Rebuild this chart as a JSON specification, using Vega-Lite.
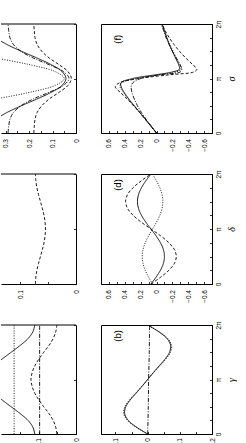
{
"$schema": "https://vega.github.io/schema/vega-lite/v6.json",
"padding": {"left": 0, "top": 19, "right": 0, "bottom": 0},
"bounds": "flush",
"align": "each",
"columns": 2,
"spacing": {"row": 41, "column": 25},
"config": {
  "view": {"stroke": "black", "strokeWidth": 1},
  "font": "Liberation Sans",
  "axis": {"grid": false, "labelOverlap": false, "labelBound": false, "labelFlush": false, "domainColor": "black", "domainWidth": 1, "tickColor": "black", "tickWidth": 0.8, "tickSize": -2.5, "labelColor": "black", "labelFont": "Liberation Sans", "labelFontSize": 6.5, "titleColor": "black"}
},
"data": {"values": [
{"p":"e","s":"solid","t":0,"v":0.40},{"p":"e","s":"solid","t":0.125,"v":0.378},{"p":"e","s":"solid","t":0.25,"v":0.343},{"p":"e","s":"solid","t":0.375,"v":0.295},{"p":"e","s":"solid","t":0.5,"v":0.233},{"p":"e","s":"solid","t":0.625,"v":0.166},{"p":"e","s":"solid","t":0.75,"v":0.104},{"p":"e","s":"solid","t":0.875,"v":0.059},{"p":"e","s":"solid","t":1,"v":0.043},{"p":"e","s":"solid","t":1.125,"v":0.059},{"p":"e","s":"solid","t":1.25,"v":0.104},{"p":"e","s":"solid","t":1.375,"v":0.166},{"p":"e","s":"solid","t":1.5,"v":0.233},{"p":"e","s":"solid","t":1.625,"v":0.295},{"p":"e","s":"solid","t":1.75,"v":0.343},{"p":"e","s":"solid","t":1.875,"v":0.378},{"p":"e","s":"solid","t":2,"v":0.40},
{"p":"e","s":"dotted","t":0,"v":0.894},{"p":"e","s":"dotted","t":0.125,"v":0.843},{"p":"e","s":"dotted","t":0.25,"v":0.76},{"p":"e","s":"dotted","t":0.375,"v":0.646},{"p":"e","s":"dotted","t":0.5,"v":0.50},{"p":"e","s":"dotted","t":0.625,"v":0.341},{"p":"e","s":"dotted","t":0.75,"v":0.194},{"p":"e","s":"dotted","t":0.875,"v":0.088},{"p":"e","s":"dotted","t":1,"v":0.05},{"p":"e","s":"dotted","t":1.125,"v":0.088},{"p":"e","s":"dotted","t":1.25,"v":0.194},{"p":"e","s":"dotted","t":1.375,"v":0.341},{"p":"e","s":"dotted","t":1.5,"v":0.50},{"p":"e","s":"dotted","t":1.625,"v":0.646},{"p":"e","s":"dotted","t":1.75,"v":0.76},{"p":"e","s":"dotted","t":1.875,"v":0.843},{"p":"e","s":"dotted","t":2,"v":0.894},
{"p":"e","s":"dashed","t":0,"v":0.18},{"p":"e","s":"dashed","t":0.125,"v":0.178},{"p":"e","s":"dashed","t":0.25,"v":0.175},{"p":"e","s":"dashed","t":0.375,"v":0.166},{"p":"e","s":"dashed","t":0.5,"v":0.146},{"p":"e","s":"dashed","t":0.625,"v":0.114},{"p":"e","s":"dashed","t":0.75,"v":0.071},{"p":"e","s":"dashed","t":0.875,"v":0.034},{"p":"e","s":"dashed","t":1,"v":0.02},{"p":"e","s":"dashed","t":1.125,"v":0.034},{"p":"e","s":"dashed","t":1.25,"v":0.071},{"p":"e","s":"dashed","t":1.375,"v":0.114},{"p":"e","s":"dashed","t":1.5,"v":0.146},{"p":"e","s":"dashed","t":1.625,"v":0.166},{"p":"e","s":"dashed","t":1.75,"v":0.175},{"p":"e","s":"dashed","t":1.875,"v":0.178},{"p":"e","s":"dashed","t":2,"v":0.18},
{"p":"e","s":"dashdot","t":0,"v":0.29},{"p":"e","s":"dashdot","t":0.125,"v":0.287},{"p":"e","s":"dashdot","t":0.25,"v":0.282},{"p":"e","s":"dashdot","t":0.375,"v":0.267},{"p":"e","s":"dashdot","t":0.5,"v":0.235},{"p":"e","s":"dashdot","t":0.625,"v":0.182},{"p":"e","s":"dashdot","t":0.75,"v":0.113},{"p":"e","s":"dashdot","t":0.875,"v":0.053},{"p":"e","s":"dashdot","t":1,"v":0.03},{"p":"e","s":"dashdot","t":1.125,"v":0.053},{"p":"e","s":"dashdot","t":1.25,"v":0.113},{"p":"e","s":"dashdot","t":1.375,"v":0.182},{"p":"e","s":"dashdot","t":1.5,"v":0.235},{"p":"e","s":"dashdot","t":1.625,"v":0.267},{"p":"e","s":"dashdot","t":1.75,"v":0.282},{"p":"e","s":"dashdot","t":1.875,"v":0.287},{"p":"e","s":"dashdot","t":2,"v":0.29},
{"p":"c","s":"dashed","t":0,"v":0.073},{"p":"c","s":"dashed","t":0.125,"v":0.0723},{"p":"c","s":"dashed","t":0.25,"v":0.0704},{"p":"c","s":"dashed","t":0.375,"v":0.0674},{"p":"c","s":"dashed","t":0.5,"v":0.064},{"p":"c","s":"dashed","t":0.625,"v":0.0606},{"p":"c","s":"dashed","t":0.75,"v":0.0576},{"p":"c","s":"dashed","t":0.875,"v":0.0557},{"p":"c","s":"dashed","t":1,"v":0.055},{"p":"c","s":"dashed","t":1.125,"v":0.0557},{"p":"c","s":"dashed","t":1.25,"v":0.0576},{"p":"c","s":"dashed","t":1.375,"v":0.0606},{"p":"c","s":"dashed","t":1.5,"v":0.064},{"p":"c","s":"dashed","t":1.625,"v":0.0674},{"p":"c","s":"dashed","t":1.75,"v":0.0704},{"p":"c","s":"dashed","t":1.875,"v":0.0723},{"p":"c","s":"dashed","t":2,"v":0.073},
{"p":"a","s":"solid","t":0,"v":0.110},{"p":"a","s":"solid","t":0.125,"v":0.115},{"p":"a","s":"solid","t":0.25,"v":0.128},{"p":"a","s":"solid","t":0.375,"v":0.149},{"p":"a","s":"solid","t":0.5,"v":0.173},{"p":"a","s":"solid","t":0.625,"v":0.197},{"p":"a","s":"solid","t":0.75,"v":0.218},{"p":"a","s":"solid","t":0.875,"v":0.231},{"p":"a","s":"solid","t":1,"v":0.236},{"p":"a","s":"solid","t":1.125,"v":0.231},{"p":"a","s":"solid","t":1.25,"v":0.218},{"p":"a","s":"solid","t":1.375,"v":0.197},{"p":"a","s":"solid","t":1.5,"v":0.173},{"p":"a","s":"solid","t":1.625,"v":0.149},{"p":"a","s":"solid","t":1.75,"v":0.128},{"p":"a","s":"solid","t":1.875,"v":0.115},{"p":"a","s":"solid","t":2,"v":0.110},
{"p":"a","s":"dashed","t":0,"v":0.051},{"p":"a","s":"dashed","t":0.125,"v":0.054},{"p":"a","s":"dashed","t":0.25,"v":0.061},{"p":"a","s":"dashed","t":0.375,"v":0.072},{"p":"a","s":"dashed","t":0.5,"v":0.086},{"p":"a","s":"dashed","t":0.625,"v":0.099},{"p":"a","s":"dashed","t":0.75,"v":0.110},{"p":"a","s":"dashed","t":0.875,"v":0.117},{"p":"a","s":"dashed","t":1,"v":0.120},{"p":"a","s":"dashed","t":1.125,"v":0.117},{"p":"a","s":"dashed","t":1.25,"v":0.110},{"p":"a","s":"dashed","t":1.375,"v":0.099},{"p":"a","s":"dashed","t":1.5,"v":0.086},{"p":"a","s":"dashed","t":1.625,"v":0.072},{"p":"a","s":"dashed","t":1.75,"v":0.061},{"p":"a","s":"dashed","t":1.875,"v":0.054},{"p":"a","s":"dashed","t":2,"v":0.051},
{"p":"a","s":"dotted","t":0,"v":0.165},{"p":"a","s":"dotted","t":1,"v":0.165},{"p":"a","s":"dotted","t":2,"v":0.165},
{"p":"a","s":"dashdot","t":0,"v":0.097},{"p":"a","s":"dashdot","t":1,"v":0.097},{"p":"a","s":"dashdot","t":2,"v":0.097},
{"p":"b","s":"solid","t":0,"v":0},{"p":"b","s":"solid","t":0.125,"v":0.0347},{"p":"b","s":"solid","t":0.25,"v":0.0603},{"p":"b","s":"solid","t":0.375,"v":0.0715},{"p":"b","s":"solid","t":0.5,"v":0.068},{"p":"b","s":"solid","t":0.625,"v":0.0542},{"p":"b","s":"solid","t":0.75,"v":0.0358},{"p":"b","s":"solid","t":0.875,"v":0.0174},{"p":"b","s":"solid","t":1,"v":0},{"p":"b","s":"solid","t":1.125,"v":-0.0174},{"p":"b","s":"solid","t":1.25,"v":-0.0358},{"p":"b","s":"solid","t":1.375,"v":-0.0542},{"p":"b","s":"solid","t":1.5,"v":-0.068},{"p":"b","s":"solid","t":1.625,"v":-0.0715},{"p":"b","s":"solid","t":1.75,"v":-0.0603},{"p":"b","s":"solid","t":1.875,"v":-0.0347},{"p":"b","s":"solid","t":2,"v":0},
{"p":"b","s":"dotted","t":0,"v":0},{"p":"b","s":"dotted","t":0.125,"v":0.036},{"p":"b","s":"dotted","t":0.25,"v":0.063},{"p":"b","s":"dotted","t":0.375,"v":0.0745},{"p":"b","s":"dotted","t":0.5,"v":0.071},{"p":"b","s":"dotted","t":0.625,"v":0.0565},{"p":"b","s":"dotted","t":0.75,"v":0.0373},{"p":"b","s":"dotted","t":0.875,"v":0.0181},{"p":"b","s":"dotted","t":1,"v":0},{"p":"b","s":"dotted","t":1.125,"v":-0.0181},{"p":"b","s":"dotted","t":1.25,"v":-0.0373},{"p":"b","s":"dotted","t":1.375,"v":-0.0565},{"p":"b","s":"dotted","t":1.5,"v":-0.071},{"p":"b","s":"dotted","t":1.625,"v":-0.0745},{"p":"b","s":"dotted","t":1.75,"v":-0.063},{"p":"b","s":"dotted","t":1.875,"v":-0.036},{"p":"b","s":"dotted","t":2,"v":0},
{"p":"b","s":"dashdot","t":0,"v":0},{"p":"b","s":"dashdot","t":0.5,"v":-0.002},{"p":"b","s":"dashdot","t":1,"v":-0.003},{"p":"b","s":"dashdot","t":1.5,"v":-0.005},{"p":"b","s":"dashdot","t":2,"v":-0.006},
{"p":"d","s":"solid","t":0,"v":0.07},{"p":"d","s":"solid","t":0.125,"v":0.005},{"p":"d","s":"solid","t":0.25,"v":-0.05},{"p":"d","s":"solid","t":0.375,"v":-0.087},{"p":"d","s":"solid","t":0.5,"v":-0.10},{"p":"d","s":"solid","t":0.625,"v":-0.087},{"p":"d","s":"solid","t":0.75,"v":-0.05},{"p":"d","s":"solid","t":0.875,"v":0.005},{"p":"d","s":"solid","t":1,"v":0.07},{"p":"d","s":"solid","t":1.125,"v":0.135},{"p":"d","s":"solid","t":1.25,"v":0.19},{"p":"d","s":"solid","t":1.375,"v":0.227},{"p":"d","s":"solid","t":1.5,"v":0.24},{"p":"d","s":"solid","t":1.625,"v":0.227},{"p":"d","s":"solid","t":1.75,"v":0.19},{"p":"d","s":"solid","t":1.875,"v":0.135},{"p":"d","s":"solid","t":2,"v":0.07},
{"p":"d","s":"dashed","t":0,"v":0.07},{"p":"d","s":"dashed","t":0.125,"v":-0.053},{"p":"d","s":"dashed","t":0.25,"v":-0.156},{"p":"d","s":"dashed","t":0.375,"v":-0.226},{"p":"d","s":"dashed","t":0.5,"v":-0.25},{"p":"d","s":"dashed","t":0.625,"v":-0.226},{"p":"d","s":"dashed","t":0.75,"v":-0.156},{"p":"d","s":"dashed","t":0.875,"v":-0.053},{"p":"d","s":"dashed","t":1,"v":0.07},{"p":"d","s":"dashed","t":1.125,"v":0.193},{"p":"d","s":"dashed","t":1.25,"v":0.296},{"p":"d","s":"dashed","t":1.375,"v":0.366},{"p":"d","s":"dashed","t":1.5,"v":0.39},{"p":"d","s":"dashed","t":1.625,"v":0.366},{"p":"d","s":"dashed","t":1.75,"v":0.296},{"p":"d","s":"dashed","t":1.875,"v":0.193},{"p":"d","s":"dashed","t":2,"v":0.07},
{"p":"d","s":"dotted","t":0,"v":0.05},{"p":"d","s":"dotted","t":0.125,"v":0.10},{"p":"d","s":"dotted","t":0.25,"v":0.142},{"p":"d","s":"dotted","t":0.375,"v":0.17},{"p":"d","s":"dotted","t":0.5,"v":0.18},{"p":"d","s":"dotted","t":0.625,"v":0.17},{"p":"d","s":"dotted","t":0.75,"v":0.142},{"p":"d","s":"dotted","t":0.875,"v":0.10},{"p":"d","s":"dotted","t":1,"v":0.05},{"p":"d","s":"dotted","t":1.125,"v":0.0},{"p":"d","s":"dotted","t":1.25,"v":-0.042},{"p":"d","s":"dotted","t":1.375,"v":-0.07},{"p":"d","s":"dotted","t":1.5,"v":-0.08},{"p":"d","s":"dotted","t":1.625,"v":-0.07},{"p":"d","s":"dotted","t":1.75,"v":-0.042},{"p":"d","s":"dotted","t":1.875,"v":0.0},{"p":"d","s":"dotted","t":2,"v":0.05},
{"p":"f","s":"solid","t":0,"v":0},{"p":"f","s":"solid","t":0.125,"v":0.07},{"p":"f","s":"solid","t":0.25,"v":0.14},{"p":"f","s":"solid","t":0.375,"v":0.21},{"p":"f","s":"solid","t":0.5,"v":0.28},{"p":"f","s":"solid","t":0.625,"v":0.35},{"p":"f","s":"solid","t":0.75,"v":0.41},{"p":"f","s":"solid","t":0.85,"v":0.445},{"p":"f","s":"solid","t":0.92,"v":0.45},{"p":"f","s":"solid","t":1.0,"v":0.30},{"p":"f","s":"solid","t":1.07,"v":0.0},{"p":"f","s":"solid","t":1.12,"v":-0.2},{"p":"f","s":"solid","t":1.17,"v":-0.29},{"p":"f","s":"solid","t":1.25,"v":-0.28},{"p":"f","s":"solid","t":1.375,"v":-0.24},{"p":"f","s":"solid","t":1.5,"v":-0.2},{"p":"f","s":"solid","t":1.625,"v":-0.16},{"p":"f","s":"solid","t":1.75,"v":-0.13},{"p":"f","s":"solid","t":1.875,"v":-0.1},{"p":"f","s":"solid","t":2,"v":-0.07},
{"p":"f","s":"dashed","t":0,"v":0},{"p":"f","s":"dashed","t":0.125,"v":0.07},{"p":"f","s":"dashed","t":0.25,"v":0.14},{"p":"f","s":"dashed","t":0.375,"v":0.21},{"p":"f","s":"dashed","t":0.5,"v":0.29},{"p":"f","s":"dashed","t":0.625,"v":0.37},{"p":"f","s":"dashed","t":0.75,"v":0.46},{"p":"f","s":"dashed","t":0.85,"v":0.52},{"p":"f","s":"dashed","t":0.92,"v":0.47},{"p":"f","s":"dashed","t":1.0,"v":0.22},{"p":"f","s":"dashed","t":1.07,"v":-0.18},{"p":"f","s":"dashed","t":1.12,"v":-0.47},{"p":"f","s":"dashed","t":1.17,"v":-0.51},{"p":"f","s":"dashed","t":1.25,"v":-0.46},{"p":"f","s":"dashed","t":1.375,"v":-0.37},{"p":"f","s":"dashed","t":1.5,"v":-0.29},{"p":"f","s":"dashed","t":1.625,"v":-0.22},{"p":"f","s":"dashed","t":1.75,"v":-0.16},{"p":"f","s":"dashed","t":1.875,"v":-0.11},{"p":"f","s":"dashed","t":2,"v":-0.07},
{"p":"f","s":"dashdot","t":0,"v":0},{"p":"f","s":"dashdot","t":0.125,"v":0.065},{"p":"f","s":"dashdot","t":0.25,"v":0.13},{"p":"f","s":"dashdot","t":0.375,"v":0.19},{"p":"f","s":"dashdot","t":0.5,"v":0.24},{"p":"f","s":"dashdot","t":0.625,"v":0.28},{"p":"f","s":"dashdot","t":0.75,"v":0.31},{"p":"f","s":"dashdot","t":0.85,"v":0.32},{"p":"f","s":"dashdot","t":0.92,"v":0.30},{"p":"f","s":"dashdot","t":1.0,"v":0.20},{"p":"f","s":"dashdot","t":1.07,"v":-0.05},{"p":"f","s":"dashdot","t":1.12,"v":-0.30},{"p":"f","s":"dashdot","t":1.17,"v":-0.32},{"p":"f","s":"dashdot","t":1.25,"v":-0.30},{"p":"f","s":"dashdot","t":1.375,"v":-0.25},{"p":"f","s":"dashdot","t":1.5,"v":-0.20},{"p":"f","s":"dashdot","t":1.625,"v":-0.16},{"p":"f","s":"dashdot","t":1.75,"v":-0.12},{"p":"f","s":"dashdot","t":1.875,"v":-0.09},{"p":"f","s":"dashdot","t":2,"v":-0.06},
{"p":"f","s":"dotted","t":0,"v":0},{"p":"f","s":"dotted","t":0.125,"v":0.07},{"p":"f","s":"dotted","t":0.25,"v":0.14},{"p":"f","s":"dotted","t":0.375,"v":0.21},{"p":"f","s":"dotted","t":0.5,"v":0.285},{"p":"f","s":"dotted","t":0.625,"v":0.355},{"p":"f","s":"dotted","t":0.75,"v":0.42},{"p":"f","s":"dotted","t":0.85,"v":0.46},{"p":"f","s":"dotted","t":0.92,"v":0.44},{"p":"f","s":"dotted","t":1.0,"v":0.25},{"p":"f","s":"dotted","t":1.07,"v":-0.05},{"p":"f","s":"dotted","t":1.12,"v":-0.25},{"p":"f","s":"dotted","t":1.17,"v":-0.31},{"p":"f","s":"dotted","t":1.25,"v":-0.29},{"p":"f","s":"dotted","t":1.375,"v":-0.25},{"p":"f","s":"dotted","t":1.5,"v":-0.21},{"p":"f","s":"dotted","t":1.625,"v":-0.17},{"p":"f","s":"dotted","t":1.75,"v":-0.13},{"p":"f","s":"dotted","t":1.875,"v":-0.10},{"p":"f","s":"dotted","t":2,"v":-0.07}
]},
"concat": [
  {"width": 75, "height": 109, "view": {"stroke": null},
   "layer": [
    {"transform": [{"filter": "datum.p == 'e'"}],
     "mark": {"type": "line", "clip": true, "color": "black", "strokeWidth": 0.9, "interpolate": "catmull-rom"},
     "encoding": {
      "x": {"field": "v", "type": "quantitative", "scale": {"domain": [0, 0.32], "reverse": true, "nice": false, "zero": false},
            "axis": {"orient": "bottom", "values": [0, 0.05, 0.1, 0.15, 0.2, 0.25, 0.3], "format": "~g", "labelExpr": "round(datum.value*100)%10==0?datum.label:''", "labelOverlap": false, "labelAngle": 270, "labelAlign": "right", "labelBaseline": "middle", "labelPadding": 8, "title": null}},
      "y": {"field": "t", "type": "quantitative", "scale": {"domain": [0, 2], "nice": false, "zero": false},
            "axis": {"orient": "right", "values": [0, 0.25, 0.5, 0.75, 1, 1.25, 1.5, 1.75, 2], "labels": false, "title": null}},
      "order": {"field": "t", "type": "quantitative"},
      "strokeDash": {"field": "s", "type": "nominal", "legend": null, "scale": {"domain": ["solid", "dashed", "dotted", "dashdot"], "range": [[1, 0], [3, 2], [1, 1.5], [4, 1.5, 1, 1.5]]}}
     }},
    {"data": {"values": [{}]}, "mark": {"type": "rule", "color": "black", "strokeWidth": 1}, "encoding": {"y": {"datum": 2, "type": "quantitative"}}}
   ]},
  {"width": 111, "height": 109,
   "layer": [
    {"transform": [{"filter": "datum.p == 'f'"}],
     "mark": {"type": "line", "clip": true, "color": "black", "strokeWidth": 0.9, "interpolate": "catmull-rom"},
     "encoding": {
      "x": {"field": "v", "type": "quantitative", "scale": {"domain": [-0.7, 0.7], "reverse": true, "nice": false, "zero": false},
            "axis": {"orient": "bottom", "values": [-0.6, -0.5, -0.4, -0.3, -0.2, -0.1, 0, 0.1, 0.2, 0.3, 0.4, 0.5, 0.6], "format": "~g", "labelExpr": "round(datum.value*10)%2==0?datum.label:''", "labelOverlap": false, "labelAngle": 270, "labelAlign": "right", "labelBaseline": "middle", "labelPadding": 8, "title": null}},
      "y": {"field": "t", "type": "quantitative", "scale": {"domain": [0, 2], "nice": false, "zero": false},
            "axis": {"orient": "right", "values": [0, 0.25, 0.5, 0.75, 1, 1.25, 1.5, 1.75, 2], "labelExpr": "datum.value==0?'0':datum.value==1?'π':datum.value==2?'2π':''", "labelOverlap": false, "labelAngle": 270, "labelAlign": "center", "labelBaseline": "top", "labelPadding": 5.5, "title": "σ", "titleAngle": 270, "titleAlign": "center", "titleBaseline": "top", "titleFont": "Liberation Serif", "titleFontStyle": "italic", "titleFontSize": 10, "titleFontWeight": "normal", "titlePadding": 5}},
      "order": {"field": "t", "type": "quantitative"},
      "strokeDash": {"field": "s", "type": "nominal", "legend": null, "scale": {"domain": ["solid", "dashed", "dotted", "dashdot"], "range": [[1, 0], [3, 2], [1, 1.5], [4, 1.5, 1, 1.5]]}}
     }},
    {"data": {"values": [{"label": "(f)"}]}, "mark": {"type": "text", "angle": 270, "fontSize": 9.5, "font": "Liberation Sans", "align": "center", "baseline": "middle", "color": "black"},
     "encoding": {"text": {"field": "label"},
      "x": {"datum": 0.485, "type": "quantitative",
            "axis": {"orient": "bottom", "values": [-0.6, -0.5, -0.4, -0.3, -0.2, -0.1, 0, 0.1, 0.2, 0.3, 0.4, 0.5, 0.6], "format": "~g", "labelExpr": "round(datum.value*10)%2==0?datum.label:''", "labelOverlap": false, "labelAngle": 270, "labelAlign": "right", "labelBaseline": "middle", "labelPadding": 8, "title": null}},
      "y": {"datum": 1.72, "type": "quantitative",
            "axis": {"orient": "right", "values": [0, 0.25, 0.5, 0.75, 1, 1.25, 1.5, 1.75, 2], "labelExpr": "datum.value==0?'0':datum.value==1?'π':datum.value==2?'2π':''", "labelOverlap": false, "labelAngle": 270, "labelAlign": "center", "labelBaseline": "top", "labelPadding": 5.5, "title": "σ", "titleAngle": 270, "titleAlign": "center", "titleBaseline": "top", "titleFont": "Liberation Serif", "titleFontStyle": "italic", "titleFontSize": 10, "titleFontWeight": "normal", "titlePadding": 5}}}}
   ]},
  {"width": 75, "height": 110, "view": {"stroke": null},
   "layer": [
    {"transform": [{"filter": "datum.p == 'c'"}],
     "mark": {"type": "line", "clip": true, "color": "black", "strokeWidth": 0.9, "interpolate": "catmull-rom"},
     "encoding": {
      "x": {"field": "v", "type": "quantitative", "scale": {"domain": [0, 0.135], "reverse": true, "nice": false, "zero": false},
            "axis": {"orient": "bottom", "values": [0, 0.05, 0.1], "format": "~g", "labelExpr": "round(datum.value*100)%10==0?datum.label:''", "labelOverlap": false, "labelAngle": 270, "labelAlign": "right", "labelBaseline": "middle", "labelPadding": 8, "title": null}},
      "y": {"field": "t", "type": "quantitative", "scale": {"domain": [0, 2], "nice": false, "zero": false},
            "axis": {"orient": "right", "values": [0, 0.25, 0.5, 0.75, 1, 1.25, 1.5, 1.75, 2], "labels": false, "title": null}},
      "order": {"field": "t", "type": "quantitative"},
      "strokeDash": {"field": "s", "type": "nominal", "legend": null, "scale": {"domain": ["solid", "dashed", "dotted", "dashdot"], "range": [[1, 0], [3, 2], [1, 1.5], [4, 1.5, 1, 1.5]]}}
     }},
    {"data": {"values": [{}]}, "mark": {"type": "rule", "color": "black", "strokeWidth": 1}, "encoding": {"y": {"datum": 2, "type": "quantitative"}}}
   ]},
  {"width": 111, "height": 110,
   "layer": [
    {"transform": [{"filter": "datum.p == 'd'"}],
     "mark": {"type": "line", "clip": true, "color": "black", "strokeWidth": 0.9, "interpolate": "catmull-rom"},
     "encoding": {
      "x": {"field": "v", "type": "quantitative", "scale": {"domain": [-0.7, 0.7], "reverse": true, "nice": false, "zero": false},
            "axis": {"orient": "bottom", "values": [-0.6, -0.5, -0.4, -0.3, -0.2, -0.1, 0, 0.1, 0.2, 0.3, 0.4, 0.5, 0.6], "format": "~g", "labelExpr": "round(datum.value*10)%2==0?datum.label:''", "labelOverlap": false, "labelAngle": 270, "labelAlign": "right", "labelBaseline": "middle", "labelPadding": 8, "title": null}},
      "y": {"field": "t", "type": "quantitative", "scale": {"domain": [0, 2], "nice": false, "zero": false},
            "axis": {"orient": "right", "values": [0, 0.25, 0.5, 0.75, 1, 1.25, 1.5, 1.75, 2], "labelExpr": "datum.value==0?'0':datum.value==1?'π':datum.value==2?'2π':''", "labelOverlap": false, "labelAngle": 270, "labelAlign": "center", "labelBaseline": "top", "labelPadding": 5.5, "title": "δ", "titleAngle": 270, "titleAlign": "center", "titleBaseline": "top", "titleFont": "Liberation Serif", "titleFontStyle": "italic", "titleFontSize": 10, "titleFontWeight": "normal", "titlePadding": 5}},
      "order": {"field": "t", "type": "quantitative"},
      "strokeDash": {"field": "s", "type": "nominal", "legend": null, "scale": {"domain": ["solid", "dashed", "dotted", "dashdot"], "range": [[1, 0], [3, 2], [1, 1.5], [4, 1.5, 1, 1.5]]}}
     }},
    {"data": {"values": [{"label": "(d)"}]}, "mark": {"type": "text", "angle": 270, "fontSize": 9.5, "font": "Liberation Sans", "align": "center", "baseline": "middle", "color": "black"},
     "encoding": {"text": {"field": "label"},
      "x": {"datum": 0.485, "type": "quantitative",
            "axis": {"orient": "bottom", "values": [-0.6, -0.5, -0.4, -0.3, -0.2, -0.1, 0, 0.1, 0.2, 0.3, 0.4, 0.5, 0.6], "format": "~g", "labelExpr": "round(datum.value*10)%2==0?datum.label:''", "labelOverlap": false, "labelAngle": 270, "labelAlign": "right", "labelBaseline": "middle", "labelPadding": 8, "title": null}},
      "y": {"datum": 1.8, "type": "quantitative",
            "axis": {"orient": "right", "values": [0, 0.25, 0.5, 0.75, 1, 1.25, 1.5, 1.75, 2], "labelExpr": "datum.value==0?'0':datum.value==1?'π':datum.value==2?'2π':''", "labelOverlap": false, "labelAngle": 270, "labelAlign": "center", "labelBaseline": "top", "labelPadding": 5.5, "title": "δ", "titleAngle": 270, "titleAlign": "center", "titleBaseline": "top", "titleFont": "Liberation Serif", "titleFontStyle": "italic", "titleFontSize": 10, "titleFontWeight": "normal", "titlePadding": 5}}}}
   ]},
  {"width": 75, "height": 109, "view": {"stroke": null},
   "layer": [
    {"transform": [{"filter": "datum.p == 'a'"}],
     "mark": {"type": "line", "clip": true, "color": "black", "strokeWidth": 0.9, "interpolate": "catmull-rom"},
     "encoding": {
      "x": {"field": "v", "type": "quantitative", "scale": {"domain": [0, 0.2], "reverse": true, "nice": false, "zero": false},
            "axis": {"orient": "bottom", "values": [0, 0.05, 0.1, 0.15], "format": "~g", "labelExpr": "round(datum.value*100)%10==0?datum.label:''", "labelOverlap": false, "labelAngle": 270, "labelAlign": "right", "labelBaseline": "middle", "labelPadding": 6, "title": null}},
      "y": {"field": "t", "type": "quantitative", "scale": {"domain": [0, 2], "nice": false, "zero": false},
            "axis": {"orient": "right", "values": [0, 0.25, 0.5, 0.75, 1, 1.25, 1.5, 1.75, 2], "labels": false, "title": null}},
      "order": {"field": "t", "type": "quantitative"},
      "strokeDash": {"field": "s", "type": "nominal", "legend": null, "scale": {"domain": ["solid", "dashed", "dotted", "dashdot"], "range": [[1, 0], [3, 2], [1, 1.5], [4, 1.5, 1, 1.5]]}}
     }},
    {"data": {"values": [{}]}, "mark": {"type": "rule", "color": "black", "strokeWidth": 1}, "encoding": {"y": {"datum": 2, "type": "quantitative"}}}
   ]},
  {"width": 111, "height": 109,
   "layer": [
    {"transform": [{"filter": "datum.p == 'b'"}],
     "mark": {"type": "line", "clip": true, "color": "black", "strokeWidth": 0.9, "interpolate": "catmull-rom"},
     "encoding": {
      "x": {"field": "v", "type": "quantitative", "scale": {"domain": [-0.2, 0.145], "reverse": true, "nice": false, "zero": false},
            "axis": {"orient": "bottom", "values": [-0.2, -0.15, -0.1, -0.05, 0, 0.05, 0.1], "format": "~g", "labelExpr": "round(datum.value*100)%10==0?datum.label:''", "labelOverlap": false, "labelAngle": 270, "labelAlign": "right", "labelBaseline": "middle", "labelPadding": 6, "title": null}},
      "y": {"field": "t", "type": "quantitative", "scale": {"domain": [0, 2], "nice": false, "zero": false},
            "axis": {"orient": "right", "values": [0, 0.25, 0.5, 0.75, 1, 1.25, 1.5, 1.75, 2], "labelExpr": "datum.value==0?'0':datum.value==1?'π':datum.value==2?'2π':''", "labelOverlap": false, "labelAngle": 270, "labelAlign": "center", "labelBaseline": "top", "labelPadding": 5.5, "title": "γ", "titleAngle": 270, "titleAlign": "center", "titleBaseline": "top", "titleFont": "Liberation Serif", "titleFontStyle": "italic", "titleFontSize": 10, "titleFontWeight": "normal", "titlePadding": 5}},
      "order": {"field": "t", "type": "quantitative"},
      "strokeDash": {"field": "s", "type": "nominal", "legend": null, "scale": {"domain": ["solid", "dashed", "dotted", "dashdot"], "range": [[1, 0], [3, 2], [1, 1.5], [4, 1.5, 1, 1.5]]}}
     }},
    {"data": {"values": [{"label": "(b)"}]}, "mark": {"type": "text", "angle": 270, "fontSize": 9.5, "font": "Liberation Sans", "align": "center", "baseline": "middle", "color": "black"},
     "encoding": {"text": {"field": "label"},
      "x": {"datum": 0.092, "type": "quantitative",
            "axis": {"orient": "bottom", "values": [-0.2, -0.15, -0.1, -0.05, 0, 0.05, 0.1], "format": "~g", "labelExpr": "round(datum.value*100)%10==0?datum.label:''", "labelOverlap": false, "labelAngle": 270, "labelAlign": "right", "labelBaseline": "middle", "labelPadding": 6, "title": null}},
      "y": {"datum": 1.8, "type": "quantitative",
            "axis": {"orient": "right", "values": [0, 0.25, 0.5, 0.75, 1, 1.25, 1.5, 1.75, 2], "labelExpr": "datum.value==0?'0':datum.value==1?'π':datum.value==2?'2π':''", "labelOverlap": false, "labelAngle": 270, "labelAlign": "center", "labelBaseline": "top", "labelPadding": 5.5, "title": "γ", "titleAngle": 270, "titleAlign": "center", "titleBaseline": "top", "titleFont": "Liberation Serif", "titleFontStyle": "italic", "titleFontSize": 10, "titleFontWeight": "normal", "titlePadding": 5}}}}
   ]}
]
}
